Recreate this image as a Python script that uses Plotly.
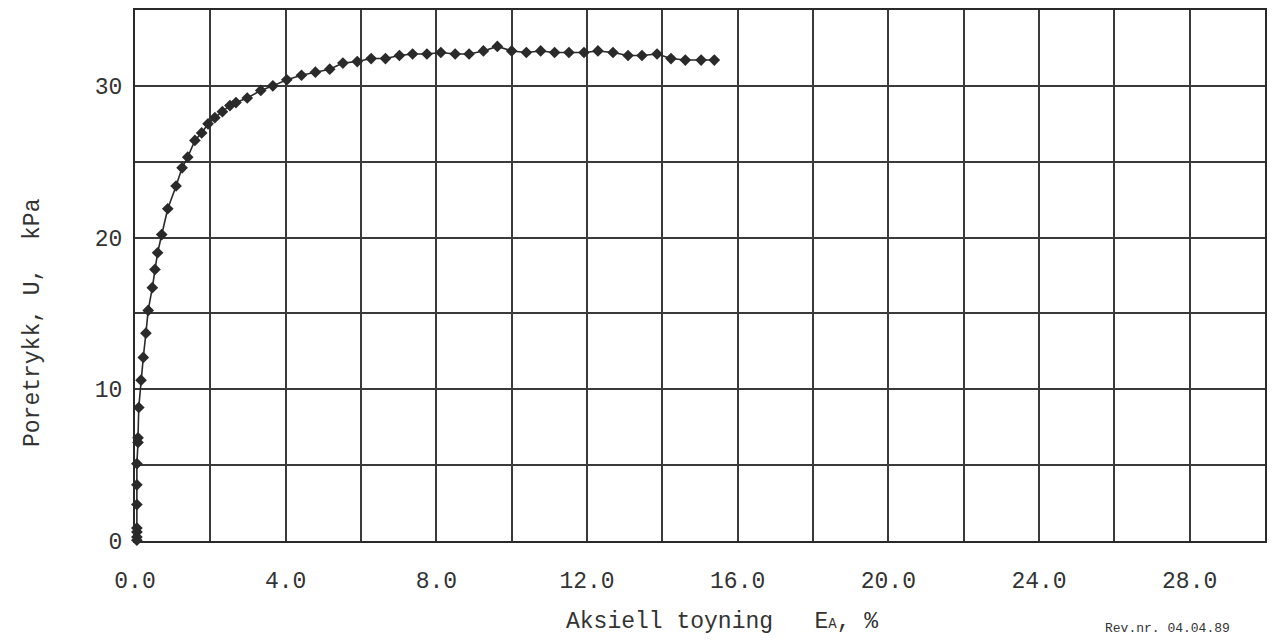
import plotly.graph_objects as go

strain = [0.05, 0.05, 0.05, 0.05, 0.05, 0.05, 0.05, 0.08, 0.08, 0.1, 0.16, 0.22, 0.29, 0.35,
          0.46, 0.53, 0.6, 0.71, 0.87, 1.09, 1.25, 1.40, 1.59, 1.77, 1.94, 2.12, 2.32,
          2.52, 2.68, 2.98, 3.34, 3.66, 4.03, 4.42, 4.79, 5.17, 5.52, 5.90, 6.27, 6.65,
          7.02, 7.37, 7.75, 8.12, 8.50, 8.87, 9.25, 9.62, 10.0, 10.39, 10.77, 11.14,
          11.52, 11.92, 12.29, 12.69, 13.09, 13.46, 13.86, 14.23, 14.61, 15.03, 15.38]
pore = [0.05, 0.26, 0.6, 0.85, 2.4, 3.7, 5.1, 6.5, 6.8, 8.8, 10.6, 12.1, 13.7, 15.2,
        16.7, 17.9, 19.0, 20.2, 21.9, 23.4, 24.6, 25.3, 26.4, 26.9, 27.5, 27.9, 28.3,
        28.7, 28.9, 29.2, 29.7, 30.0, 30.4, 30.7, 30.9, 31.1, 31.5, 31.6, 31.8, 31.8,
        32.0, 32.1, 32.1, 32.2, 32.1, 32.1, 32.3, 32.6, 32.3, 32.2, 32.3, 32.2,
        32.2, 32.2, 32.3, 32.2, 32.0, 32.0, 32.1, 31.8, 31.7, 31.7, 31.7]

x_grid = [0, 2, 4, 6, 8, 10, 12, 14, 16, 18, 20, 22, 24, 26, 28, 30]
x_labels = ["0.0", "", "4.0", "", "8.0", "", "12.0", "", "16.0", "", "20.0", "", "24.0", "", "28.0", ""]
y_grid = [0, 5, 10, 15, 20, 25, 30, 35]
y_labels = ["0", "", "10", "", "20", "", "30", ""]

FONT = "Liberation Mono"
INK = "#2a2a2a"
TXT = "#333333"

fig = go.Figure()
fig.add_trace(go.Scatter(
    x=strain, y=pore, mode="lines+markers",
    line=dict(color=INK, width=1.6),
    marker=dict(symbol="diamond", size=9, color=INK),
    showlegend=False, cliponaxis=False,
))

fig.update_layout(
    width=1275, height=640,
    margin=dict(l=135, r=8, t=8, b=99),
    paper_bgcolor="white", plot_bgcolor="white",
    font=dict(family=FONT, color=TXT),
    xaxis=dict(range=[0, 30], tickvals=x_grid, ticktext=x_labels,
               showgrid=True, gridcolor="#3a3a3a", gridwidth=1.6,
               showline=True, linecolor=INK, linewidth=2, mirror=True,
               ticks="outside", ticklen=17, tickcolor="rgba(0,0,0,0)",
               tickfont=dict(size=23, family=FONT, color=TXT), zeroline=False),
    yaxis=dict(range=[0, 35], tickvals=y_grid, ticktext=y_labels,
               showgrid=True, gridcolor="#3a3a3a", gridwidth=1.6,
               showline=True, linecolor=INK, linewidth=2, mirror=True,
               ticks="outside", ticklen=6, tickcolor="rgba(0,0,0,0)",
               tickfont=dict(size=23, family=FONT, color=TXT), zeroline=False),
    annotations=[
        dict(text="Aksiell toyning   E<span style='font-size:14px'>A</span>, %",
             xref="paper", yref="paper", x=(565 - 135) / 1132, y=-(622 - 541) / 533,
             xanchor="left", yanchor="middle", showarrow=False,
             font=dict(size=23, family=FONT, color=TXT)),
        dict(text="Poretrykk, U,  kPa", textangle=-90,
             xref="paper", yref="paper", x=-(135 - 33) / 1132, y=(541 - 322) / 533,
             xanchor="center", yanchor="middle", showarrow=False,
             font=dict(size=23, family=FONT, color=TXT)),
        dict(text="Rev.nr. 04.04.89",
             xref="paper", yref="paper", x=(1105 - 135) / 1132, y=-(638 - 541) / 533,
             xanchor="left", yanchor="bottom", showarrow=False,
             font=dict(size=13, family=FONT, color=TXT)),
    ],
)

fig.write_html("out.html")
